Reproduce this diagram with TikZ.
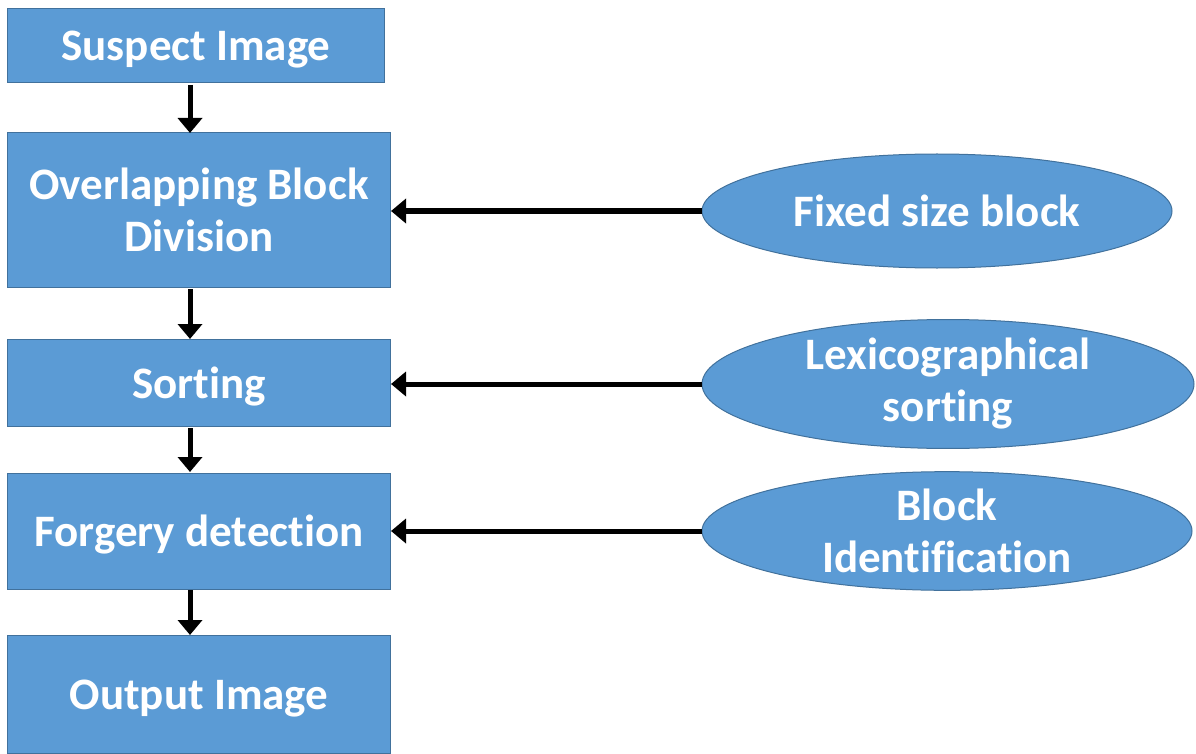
\documentclass[tikz,border=0pt]{standalone}
\usepackage{fontspec}
\setmainfont{Carlito}[Ligatures=NoCommon]
\usetikzlibrary{shapes.geometric,arrows.meta}
\definecolor{boxfill}{HTML}{5B9BD5}
\definecolor{boxline}{HTML}{41719C}
\tikzset{
  stepbox/.style={draw=boxline, line width=1pt, fill=boxfill, text=white, font=\bfseries\fontsize{45}{52}\selectfont, align=center, inner sep=0pt},
  oneline/.style={text height=39pt, text depth=9pt},
  inbox/.style={ellipse, draw=boxline, line width=1pt, fill=boxfill, text=white, font=\bfseries\fontsize{45}{52}\selectfont, align=center, inner sep=0pt},
  flow/.style={line width=5pt, -{Triangle[length=15pt,width=24pt]}},
}
\begin{document}
\begin{tikzpicture}[x=1pt,y=-1pt]
\useasboundingbox (0,0) rectangle (1196,754);
\node[stepbox, oneline, minimum width=377pt, minimum height=74pt] (s1) at (196,46) {Suspect Image};
\node[stepbox, minimum width=383pt, minimum height=154pt] (s2) at (199,210) {Overlapping Block\\Division};
\node[stepbox, oneline, minimum width=383pt, minimum height=87pt] (s3) at (199,383) {Sorting};
\node[stepbox, oneline, minimum width=383pt, minimum height=116pt] (s4) at (199,531) {Forgery detection};
\node[stepbox, oneline, minimum width=383pt, minimum height=118pt] (s5) at (199,694) {Output Image};
\node[inbox, minimum width=470pt, minimum height=114pt] (e1) at (937,211) {Fixed size block};
\node[inbox, minimum width=492pt, minimum height=110pt] (e2) at (948,384) {Lexicographical\\sorting};
\node[inbox, minimum width=490pt, minimum height=114pt] (e3) at (947,531) {Block\\Identification};
\draw[flow] (190,85) -- (190,133);
\draw[flow] (190,289) -- (190,339);
\draw[flow] (190,428) -- (190,472);
\draw[flow] (190,590) -- (190,635);
\draw[flow] (e1.west) -- (s2.east |- e1.west);
\draw[flow] (e2.west) -- (s3.east |- e2.west);
\draw[flow] (e3.west) -- (s4.east |- e3.west);
\end{tikzpicture}
\end{document}
